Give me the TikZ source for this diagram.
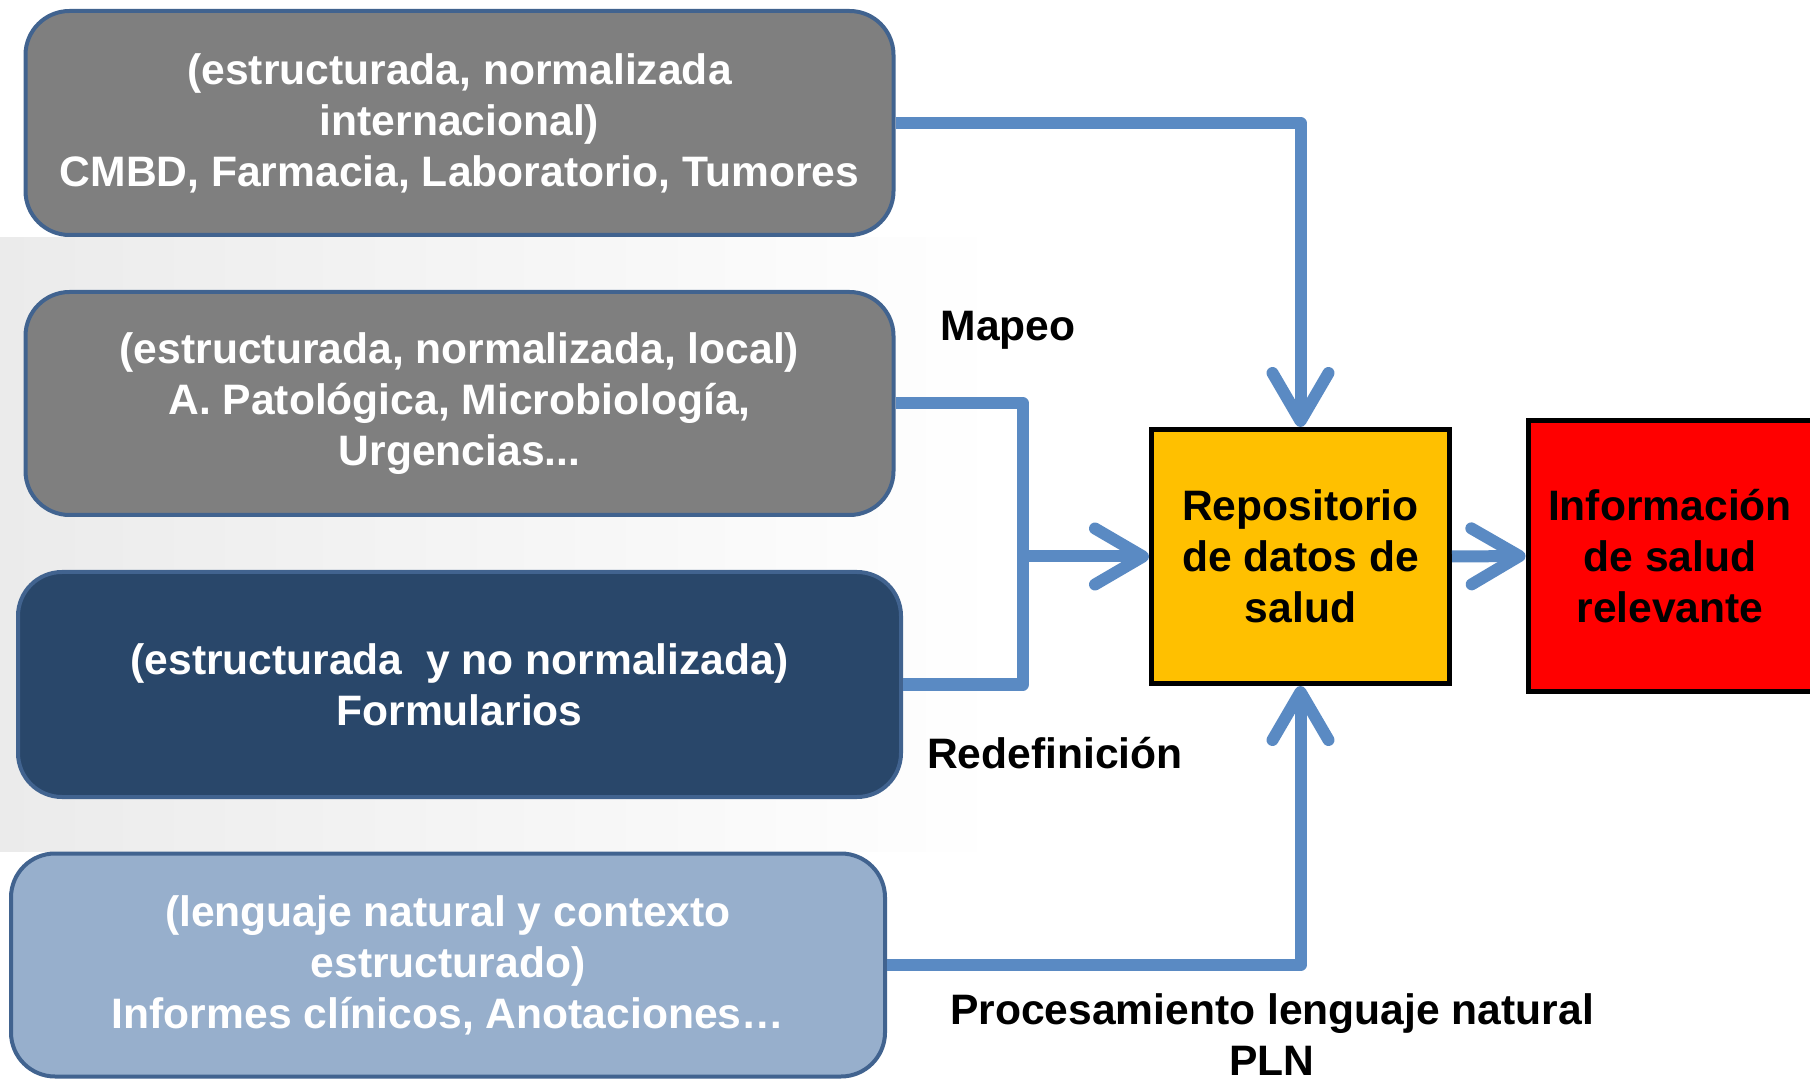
\documentclass[tikz,border=0pt]{standalone}
\usepackage{fontspec}
\setmainfont{Liberation Sans}
\usetikzlibrary{positioning,arrows.meta,fadings}

\definecolor{cajagris}{HTML}{7F7F7F}
\definecolor{bordeazul}{HTML}{41638F}
\definecolor{azuloscuro}{HTML}{29476A}
\definecolor{azulclaro}{HTML}{97AFCC}
\definecolor{flecha}{HTML}{5A8AC3}
\definecolor{amarillo}{HTML}{FFC000}

\begin{document}
\begin{tikzpicture}[x=0.5pt,y=-0.5pt,
    fuente/.style={font=\bfseries\fontsize{21.3}{25.5}\selectfont},
    caja/.style={draw=bordeazul,line width=2pt,rounded corners=22pt,text=white,align=center,fuente,inner sep=0pt},
    bloque/.style={draw=black,line width=2.5pt,align=center,fuente,inner sep=0pt},
    linea/.style={draw=flecha,line width=6pt,line join=round},
    flechita/.style={linea,-{Straight Barb[length=24pt,width=28pt,round]}},
    etiqueta/.style={fuente,align=center}]
    \useasboundingbox (0,0) rectangle (1810,1079);
    % fondo (foto difuminada)
    \fill[black!8,path fading=east] (0,237) rectangle (1000,852);

    % fuentes de datos
    \node[caja,fill=cajagris,minimum width=434pt,minimum height=112pt] (internacional) at (459.5,123)
        {(estructurada, normalizada\\internacional)\\CMBD, Farmacia, Laboratorio, Tumores};
    \node[caja,fill=cajagris,minimum width=434pt,minimum height=111.5pt] (local) at (459.5,403.5)
        {(estructurada, normalizada, local)\\A. Patológica, Microbiología,\\Urgencias...};
    \node[caja,fill=azuloscuro,minimum width=441.5pt,minimum height=112.5pt] (formularios) at (459.5,684.5)
        {(estructurada\ \ y no normalizada)\\Formularios};
    \node[caja,fill=azulclaro,minimum width=437pt,minimum height=111.5pt] (informes) at (448,965)
        {(lenguaje natural y contexto\\estructurado)\\Informes clínicos, Anotaciones…};

    % repositorio y resultado
    \node[bloque,fill=amarillo,minimum width=149pt,minimum height=127pt] (repositorio) at (1300.5,556.5)
        {Repositorio\\de datos de\\salud};
    \node[bloque,fill=red,minimum width=142pt,minimum height=135pt] (informacion) at (1670,556)
        {Información\\de salud\\relevante};

    % conexiones
    \coordinate (union) at (1023,556.5);
    \draw[flechita] (internacional.east) -| (repositorio.north);
    \draw[linea] (local.east) -| (union);
    \draw[linea] (formularios.east) -| (union);
    \draw[flechita] (union) -- (repositorio.west);
    \draw[flechita] (informes.east) -| (repositorio.south);
    \draw[flechita] (repositorio.east) -- (informacion.west);

    % etiquetas
    \node[etiqueta] (mapeo) at (1008,330) {Mapeo};
    \node[etiqueta] (redefinicion) at (1055,753) {Redefinición};
    \node[etiqueta] (pln) at (1272,1035) {Procesamiento lenguaje natural\\PLN};
\end{tikzpicture}
\end{document}
